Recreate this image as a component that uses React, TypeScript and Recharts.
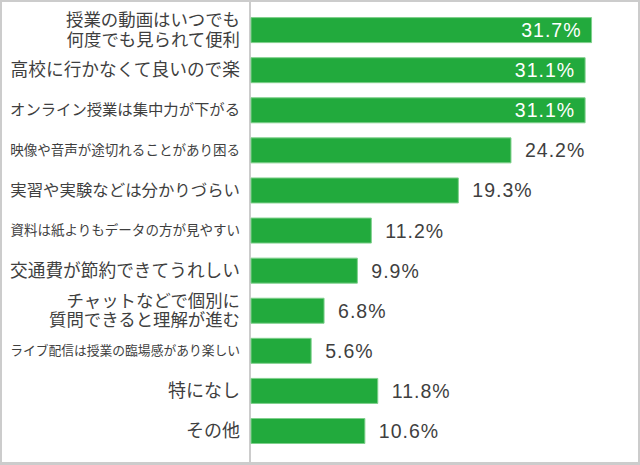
import React from "react";
import { BarChart, Bar, XAxis, YAxis, LabelList } from "recharts";

const categories: string[] = [
  "授業の動画はいつでも\n何度でも見られて便利",
  "高校に行かなくて良いので楽",
  "オンライン授業は集中力が下がる",
  "映像や音声が途切れることがあり困る",
  "実習や実験などは分かりづらい",
  "資料は紙よりもデータの方が見やすい",
  "交通費が節約できてうれしい",
  "チャットなどで個別に\n質問できると理解が進む",
  "ライブ配信は授業の臨場感があり楽しい",
  "特になし",
  "その他",
];

const values: number[] = [31.7, 31.1, 31.1, 24.2, 19.3, 11.2, 9.9, 6.8, 5.6, 11.8, 10.6];

const data = categories.map((name, i) => ({ name, value: values[i] }));

const LABEL_MAX_WIDTH = 230;
const LABEL_BASE_SIZE = 18;
const TEXT_COLOR = "#3f3f3f";

const CategoryTick = (props: any) => {
  const { x, y, payload } = props;
  const lines: string[] = String(payload.value).split("\n");
  const multi = lines.length > 1;
  const lineHeight = 19.5;
  const startOffset = -((lines.length - 1) * lineHeight) / 2;
  return (
    <g>
      {lines.map((line, i) => {
        const fs = Math.min(multi ? 17.4 : LABEL_BASE_SIZE, LABEL_MAX_WIDTH / line.length);
        return (
          <text
            key={i}
            x={x}
            y={y + startOffset + i * lineHeight}
            dy={fs * 0.36}
            textAnchor="end"
            fill={TEXT_COLOR}
            fontSize={fs}
            fontFamily="'Noto Sans CJK JP', sans-serif"
          >
            {line}
          </text>
        );
      })}
    </g>
  );
};

const ValueLabel = (props: any) => {
  const { x, y, width, height, value } = props;
  const inside = value >= 30;
  const cy = y + height / 2;
  return (
    <text
      x={inside ? x + width - 10 : x + width + 14}
      y={cy}
      dy={7}
      textAnchor={inside ? "end" : "start"}
      fill={inside ? "#ffffff" : TEXT_COLOR}
      fontSize={19.5}
      letterSpacing={1}
      fontFamily="'Liberation Sans', Arial, sans-serif"
    >
      {`${value.toFixed(1)}%`}
    </text>
  );
};

export default function App() {
  return (
    <div
      style={{
        position: "absolute",
        left: 0,
        top: 0,
        width: 640,
        height: 465,
        boxSizing: "border-box",
        borderTop: "2px solid #cccccc",
        borderLeft: "2px solid #cccccc",
        borderRight: "2px solid #cccccc",
        borderBottom: "3px solid #cccccc",
        background: "#ffffff",
      }}
    >
      <div
        style={{
          position: "absolute",
          left: 247,
          top: 0,
          width: 2,
          height: 460,
          background: "#cccccc",
        }}
      />
      <BarChart
        width={636}
        height={460}
        data={data}
        layout="vertical"
        margin={{ top: 7.6, right: 11, bottom: 11.4, left: 0 }}
        barSize={25}
      >
        <XAxis type="number" domain={[0, 35]} hide />
        <YAxis
          type="category"
          dataKey="name"
          width={249}
          axisLine={false}
          tickLine={false}
          tickSize={0}
          tickMargin={11}
          interval={0}
          tick={<CategoryTick />}
        />
        <Bar
          dataKey="value"
          fill="#22aa3d"
          stroke="#7fd08c"
          strokeWidth={1}
          isAnimationActive={false}
        >
          <LabelList dataKey="value" content={<ValueLabel />} />
        </Bar>
      </BarChart>
    </div>
  );
}
